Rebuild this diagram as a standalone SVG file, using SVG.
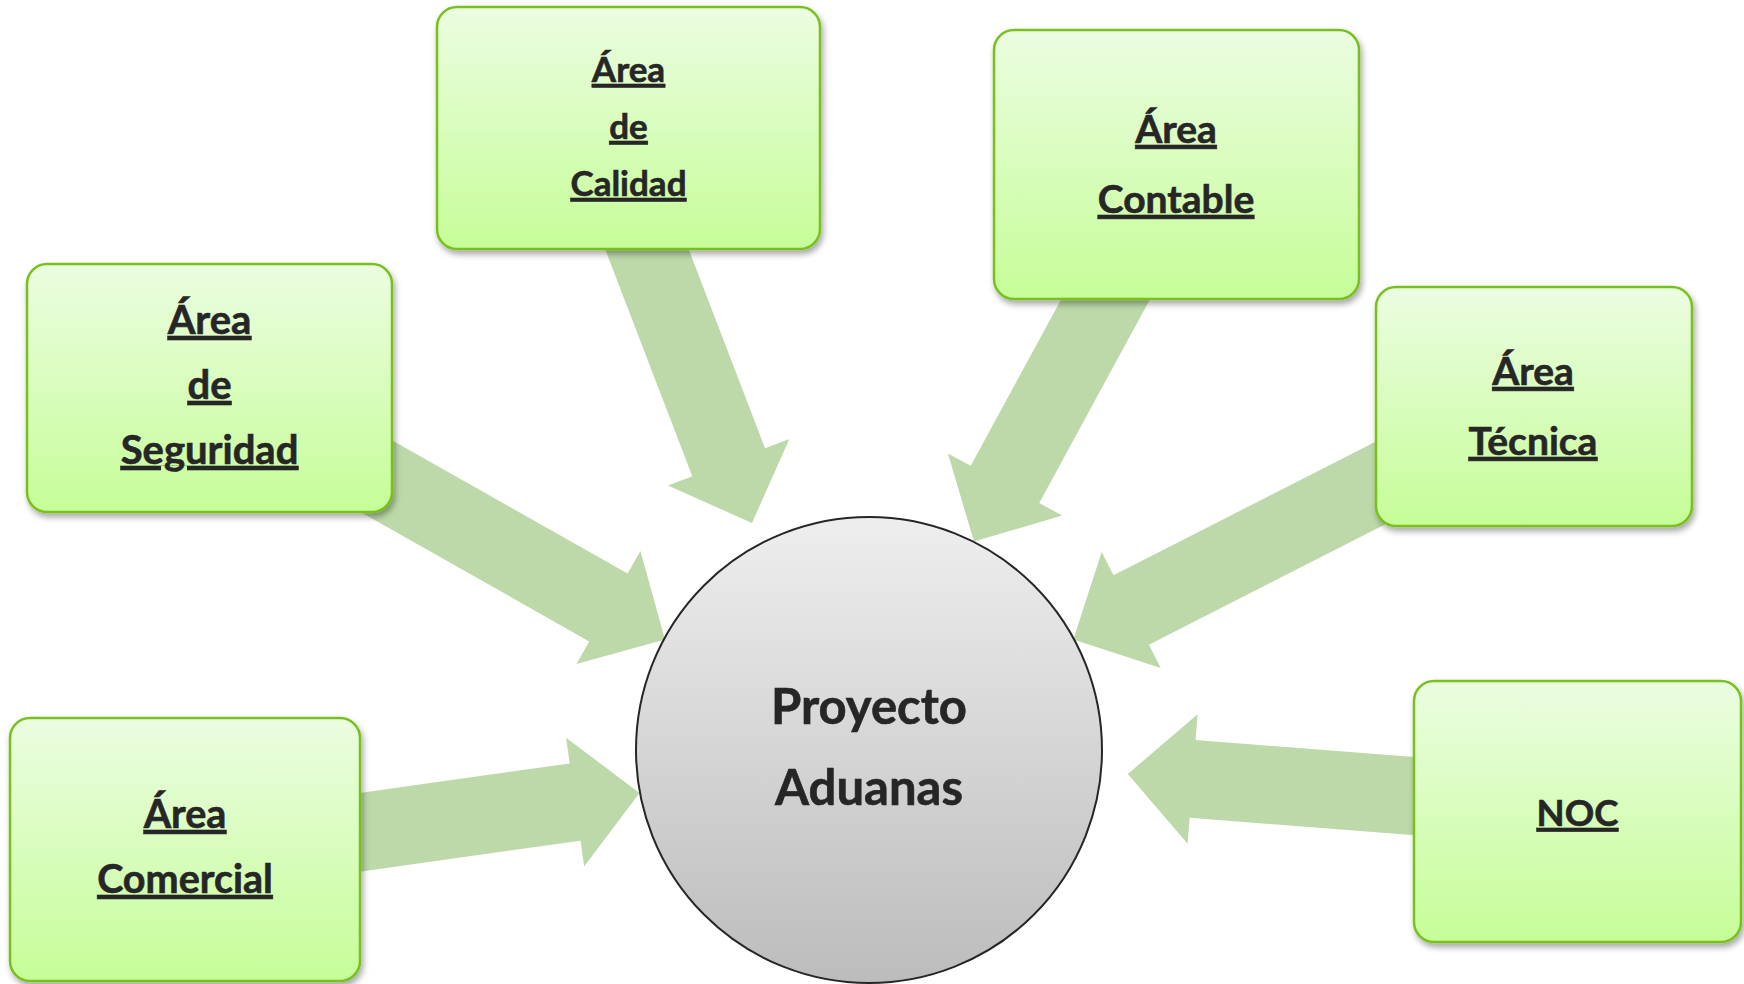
<svg xmlns="http://www.w3.org/2000/svg" width="1744" height="984" viewBox="0 0 1744 984">
<style>
.lbl{font-family:Lato,"Open Sans","Liberation Sans",sans-serif;font-weight:bold;fill:#262626;stroke:#262626;stroke-width:0.6;text-anchor:middle;text-decoration:underline;}
.box{fill:url(#gBox);stroke:#78c01e;stroke-width:2.5;filter:url(#sh);}
.arr{fill:#bdd9a9;}
.ctr{font-family:Lato,"Open Sans","Liberation Sans",sans-serif;font-weight:bold;fill:#262626;stroke:#262626;stroke-width:0.6;text-anchor:middle;font-size:49px;}
</style>
<defs>
<linearGradient id="gBox" x1="0" y1="0" x2="0" y2="1">
<stop offset="0" stop-color="#ebfde1"/>
<stop offset="1" stop-color="#c6fd98"/>
</linearGradient>
<linearGradient id="gCirc" x1="0" y1="0" x2="0" y2="1">
<stop offset="0" stop-color="#eeeeee"/>
<stop offset="1" stop-color="#bcbcbc"/>
</linearGradient>
<filter id="sh" x="-10%" y="-10%" width="125%" height="130%">
<feDropShadow dx="2" dy="4" stdDeviation="3" flood-color="#000" flood-opacity="0.35"/>
</filter>
</defs>
<rect width="1744" height="984" fill="#ffffff"/>
<g id="connectors">
<polygon class="arr" transform="translate(752,523) rotate(69)" points="0,0 -65,-65 -65,-39 -325,-39 -325,39 -65,39 -65,65"/>
<polygon class="arr" transform="translate(665,639.5) rotate(29.5)" points="0,0 -65,-65 -65,-39 -350,-39 -350,39 -65,39 -65,65"/>
<polygon class="arr" transform="translate(639.5,793) rotate(-8)" points="0,0 -65,-65 -65,-39 -313,-39 -313,39 -65,39 -65,65"/>
<polygon class="arr" transform="translate(974,541.6) rotate(118.5)" points="0,0 -65,-65 -65,-39 -309,-39 -309,39 -65,39 -65,65"/>
<polygon class="arr" transform="translate(1073.3,639.5) rotate(153)" points="0,0 -65,-65 -65,-39 -375,-39 -375,39 -65,39 -65,65"/>
<polygon class="arr" transform="translate(1127.8,774) rotate(184.4)" points="0,0 -65,-65 -65,-39 -323,-39 -323,39 -65,39 -65,65"/>
</g>
<g id="calidad">
<rect class="box" x="437" y="7" width="383" height="242" rx="20"/>
<text class="lbl" x="628.5" y="82" font-size="35">Área</text>
<text class="lbl" x="628.5" y="139" font-size="35">de</text>
<text class="lbl" x="628.5" y="196" font-size="35">Calidad</text>
</g>
<g id="seguridad">
<rect class="box" x="27" y="264" width="365" height="248" rx="20"/>
<text class="lbl" x="209.5" y="334" font-size="40">Área</text>
<text class="lbl" x="209.5" y="399" font-size="40">de</text>
<text class="lbl" x="209.5" y="464" font-size="40">Seguridad</text>
</g>
<g id="contable">
<rect class="box" x="994" y="30" width="365" height="269" rx="20"/>
<text class="lbl" x="1176" y="143" font-size="39">Área</text>
<text class="lbl" x="1176" y="213" font-size="39">Contable</text>
</g>
<g id="tecnica">
<rect class="box" x="1376" y="287" width="316" height="239" rx="20"/>
<text class="lbl" x="1533" y="385" font-size="39">Área</text>
<text class="lbl" x="1533" y="455" font-size="39">Técnica</text>
</g>
<g id="comercial">
<rect class="box" x="10" y="718" width="350" height="263" rx="20"/>
<text class="lbl" x="185" y="828" font-size="39.5">Área</text>
<text class="lbl" x="185" y="893" font-size="39.5">Comercial</text>
</g>
<g id="noc">
<rect class="box" x="1414" y="681" width="327" height="261" rx="20"/>
<text class="lbl" x="1577.5" y="826" font-size="36.5">NOC</text>
</g>
<g id="proyecto">
<circle cx="869" cy="750" r="233" fill="url(#gCirc)" stroke="#262626" stroke-width="2"/>
<text class="ctr" x="869" y="724">Proyecto</text>
<text class="ctr" x="869" y="805">Aduanas</text>
</g>
</svg>
